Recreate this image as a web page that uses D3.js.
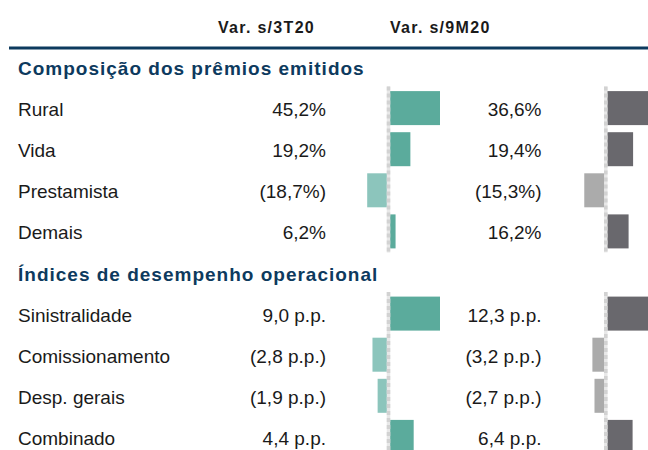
<!DOCTYPE html>
<html>
<head>
<meta charset="utf-8">
<script src="https://cdn.jsdelivr.net/npm/d3@7"></script>
<style>
  body { margin: 0; background: #fff; }
  text { font-family: "Liberation Sans", Arial, sans-serif; }
</style>
</head>
<body>
<div id="chart"></div>
<script>
const width = 648
const height = 450

// dados
const colunas = ["Var. s/3T20", "Var. s/9M20"]
const secoes = ["Composição dos prêmios emitidos", "Índices de desempenho operacional"]
const premiosCategorias = ["Rural", "Vida", "Prestamista", "Demais"]
const premios3T = [45.2, 19.2, -18.7, 6.2]
const premios9M = [36.6, 19.4, -15.3, 16.2]
const indicesCategorias = ["Sinistralidade", "Comissionamento", "Desp. gerais", "Combinado"]
const indices3T = [9.0, -2.8, -1.9, 4.4]
const indices9M = [12.3, -3.2, -2.7, 6.4]

const navy = "#0d3a5e"
const colors = [
    { pos: "#5bab9c", neg: "#8cc5bc" },
    { pos: "#69686d", neg: "#ababab" }
]

const svg = d3.select("div#chart").append("svg").attr("width", width).attr("height", height)

const blocos = [
    { titulo: secoes[0], cats: premiosCategorias, vals: [premios3T, premios9M], suf: "%" },
    { titulo: secoes[1], cats: indicesCategorias, vals: [indices3T, indices9M], suf: " p.p." }
]

// linhas: titulo da secao + categorias
const linhas = []
blocos.forEach(b => { linhas.push("h:" + b.titulo); b.cats.forEach(c => linhas.push(c)) })
const y = d3.scalePoint().domain(linhas).range([75, 75 + (linhas.length - 1) * 41.1])

const zeroX = [388.5, 605.8]
const valX = [326, 541.5]
const headX = [218, 390]

const fmt = (v, suf) => {
    const s = Math.abs(v).toFixed(1).replace(".", ",") + suf
    return v < 0 ? `(${s})` : s
}

// cabecalho
colunas.forEach((c, i) => {
    svg.append("text").text(c).attr("x", headX[i]).attr("y", 33)
        .attr("font-size", 16).attr("font-weight", 700).attr("letter-spacing", 1.3).attr("fill", "#1a1a1a")
})
svg.append("line").attr("x1", 9).attr("x2", width).attr("y1", 48).attr("y2", 48)
    .attr("stroke", navy).attr("stroke-width", 3)

blocos.forEach(b => {
    svg.append("text").text(b.titulo).attr("x", 18).attr("y", y("h:" + b.titulo))
        .attr("font-size", 19).attr("font-weight", 700).attr("letter-spacing", 1).attr("fill", navy)

    const g = svg.append("g")
    g.selectAll("text.label").data(b.cats).enter().append("text").attr("class", "label")
        .text(d => d).attr("x", 18).attr("y", d => y(d))
        .attr("font-size", 19).attr("fill", "#1a1a1a")

    b.vals.forEach((vals, i) => {
        const m = d3.max(vals, d => Math.abs(d))
        const x = d3.scaleLinear().domain([-m, m]).range([zeroX[i] - 51.5, zeroX[i] + 51.5])
        const data = b.cats.map((c, k) => ({ cat: c, v: vals[k] }))

        g.selectAll(null).data(data).enter().append("text")
            .text(d => fmt(d.v, b.suf))
            .attr("x", valX[i]).attr("y", d => y(d.cat))
            .attr("text-anchor", "end").attr("font-size", 19).attr("fill", "#1a1a1a")

        g.selectAll(null).data(data).enter().append("rect")
            .attr("x", d => Math.min(x(0), x(d.v)))
            .attr("width", d => Math.abs(x(d.v) - x(0)))
            .attr("y", d => y(d.cat) - 25)
            .attr("height", 34)
            .attr("fill", d => d.v < 0 ? colors[i].neg : colors[i].pos)

        const y1 = y(b.cats[0]) - 29.5
        const y2 = y(b.cats[b.cats.length - 1]) + 13
        g.append("line").attr("x1", x(0)).attr("x2", x(0)).attr("y1", y1).attr("y2", y2)
            .attr("stroke", "#e8e8e8").attr("stroke-width", 3.5)
        g.append("line").attr("x1", x(0)).attr("x2", x(0)).attr("y1", y1).attr("y2", y2)
            .attr("stroke", "#d2d2d2").attr("stroke-width", 3.5).style("stroke-dasharray", "4, 3")
    })
})
</script>
</body>
</html>
